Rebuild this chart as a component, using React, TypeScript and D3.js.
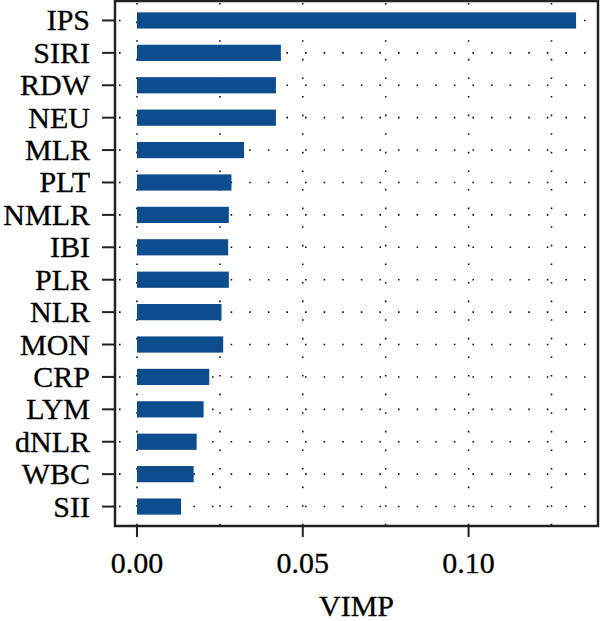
import React from "react";
import * as d3 from "d3";

const categories = ["IPS","SIRI","RDW","NEU","MLR","PLT","NMLR","IBI","PLR","NLR","MON","CRP","LYM","dNLR","WBC","SII"];
const values = [0.1324,0.0434,0.0419,0.0419,0.0323,0.0285,0.0277,0.0275,0.0277,0.0255,0.0260,0.0218,0.0201,0.0180,0.0171,0.0133];
const xTicks = [0, 0.05, 0.10];
const xMinor = [0.025, 0.075, 0.125];
const xLabel = "VIMP";

export default function App() {
  const W = 600, H = 621;
  const left = 115, right = 598, top = 1, bottom = 526;
  const maxV = d3.max(values) as number;
  const pad = maxV * 0.05;
  const x = d3.scaleLinear().domain([-pad, maxV + pad]).range([left, right]);
  const n = categories.length;
  const unit = (bottom - top) / (n - 1 + 1.2);
  const y = (i: number) => top + unit * (0.6 + i);
  const barH = unit * 0.5;
  const dash = "1.6 17";
  const fontStyle = { fontFamily: "Liberation Serif, Times New Roman, Tinos, DejaVu Serif, serif" };
  return (
    <svg width={W} height={H} style={{ position: "absolute", left: 0, top: 0, background: "#fff" }}>
      <rect x={0} y={0} width={W} height={H} fill="#fff" />
      {[...xTicks, ...xMinor].map((t, i) => (
        <line key={"vg" + i} x1={x(t)} x2={x(t)} y1={top + 2} y2={bottom} stroke="#111" strokeWidth={1.6} strokeDasharray={dash} />
      ))}
      {categories.map((c, i) => (
        <line key={"hg" + i} x1={left + 2} x2={right} y1={y(i)} y2={y(i)} stroke="#111" strokeWidth={1.6} strokeDasharray={dash} strokeDashoffset={-2} />
      ))}
      {categories.map((c, i) => (
        <rect key={"b" + i} x={x(0)} y={y(i) - barH / 2} width={x(values[i]) - x(0)} height={barH} fill="#0d4d8e" />
      ))}
      <rect x={left} y={top} width={right - left} height={bottom - top} fill="none" stroke="#222" strokeWidth={2.5} />
      {categories.map((c, i) => (
        <g key={"yl" + i}>
          <line x1={102} x2={left} y1={y(i)} y2={y(i)} stroke="#222" strokeWidth={2} />
          <text x={90} y={y(i) + 10} textAnchor="end" style={fontStyle} fontSize={30} fill="#000" stroke="#000" strokeWidth={0.3}>{c}</text>
        </g>
      ))}
      {xTicks.map((t, i) => (
        <g key={"xt" + i}>
          <line x1={x(t)} x2={x(t)} y1={bottom} y2={bottom + 11} stroke="#222" strokeWidth={2} />
          <text x={x(t)} y={573} textAnchor="middle" style={fontStyle} fontSize={30} fill="#000" stroke="#000" strokeWidth={0.3}>{d3.format(".2f")(t)}</text>
        </g>
      ))}
      <text x={(left + right) / 2} y={616} textAnchor="middle" style={fontStyle} fontSize={30} fill="#000" stroke="#000" strokeWidth={0.3}>{xLabel}</text>
    </svg>
  );
}
